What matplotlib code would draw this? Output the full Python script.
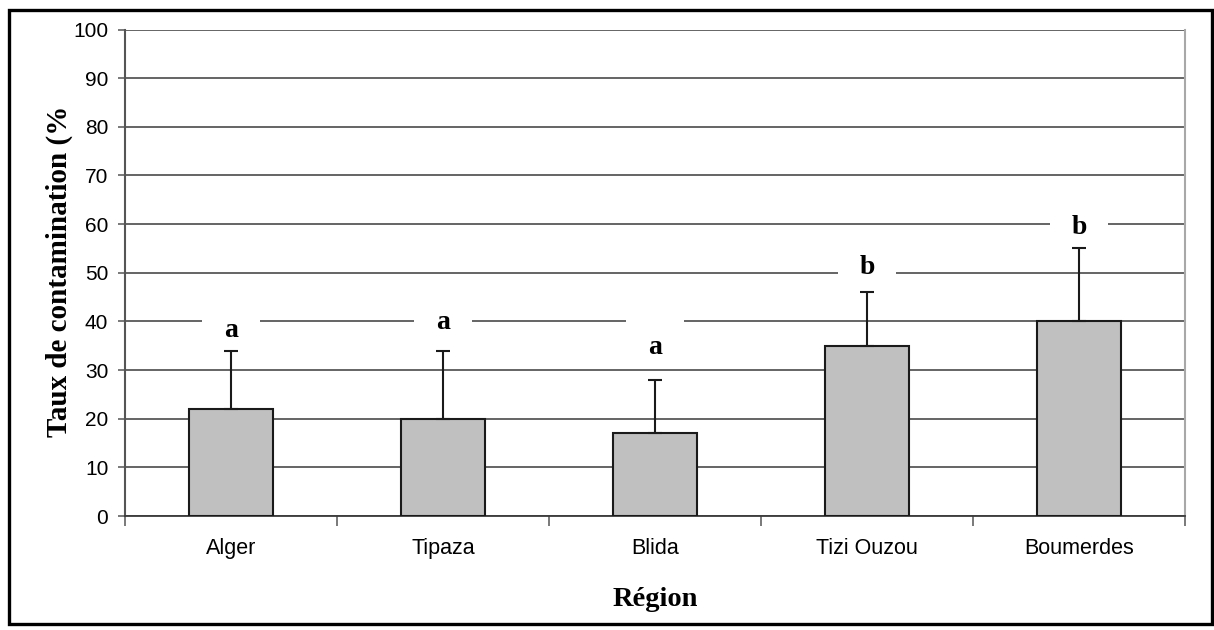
import numpy as np
import matplotlib.pyplot as plt
from matplotlib.patches import Rectangle

# contamination rate per region, mean and standard deviation (%)
regions = ['Alger', 'Tipaza', 'Blida', 'Tizi Ouzou', 'Boumerdes']
taux = [22, 20, 17, 35, 40]
ecart = [12, 14, 11, 11, 15]
groupes = ['a', 'a', 'a', 'b', 'b']

# gap between top of error bar and the group letter
letter_gap = [4.2, 5.8, 6.6, 5.0, 4.3]

W, H = 1214, 630
fig = plt.figure(figsize=(W / 100, H / 100), dpi=100)
ax = fig.add_axes([125 / W, (H - 516) / H, 1060 / W, 486.5 / H])

x = np.arange(len(regions))
yerr = [np.zeros(len(ecart)), ecart]
ax.bar(x, taux, width=0.4, color='#c0c0c0', edgecolor='#1a1a1a',
       linewidth=1.5, zorder=3)
ax.errorbar(x, taux, yerr=yerr, fmt='none', ecolor='#1a1a1a',
            elinewidth=1.5, capsize=4.7, capthick=1.5, zorder=4)

# letters for the significance groups, on a white patch hiding the grid
for i in range(len(regions)):
    ly = taux[i] + ecart[i] + letter_gap[i]
    ax.add_patch(Rectangle((x[i] - 0.135, ly - 3), 0.27, 9,
                           facecolor='white', edgecolor='none', zorder=2))
    ax.text(x[i], ly, groupes[i], ha='center', va='center',
            fontsize=20, fontweight='bold', family='Liberation Serif', zorder=5)

ax.set_xlim(-0.5, len(regions) - 0.5)
ax.set_ylim(0, 100)
ax.set_yticks(np.arange(0, 101, 10))
ax.yaxis.grid(True, color='#3a3a3a', linewidth=1.1, zorder=0)
ax.set_axisbelow(True)

ax.set_xticks(x)
ax.set_xticklabels(regions, family='Liberation Sans', fontsize=15.5)
ax.set_xticks(np.arange(-0.5, len(regions)), minor=True)
ax.tick_params(axis='x', which='major', length=0, pad=16)
ax.tick_params(axis='x', which='minor', length=7, width=1.1,
               color='#555555', direction='out')
ax.tick_params(axis='y', length=5, width=1.1, color='#555555', pad=7)
for lab in ax.get_yticklabels():
    lab.set_family('Liberation Sans')
    lab.set_fontsize(15)

ax.spines['top'].set_visible(False)
ax.spines['right'].set_color('#a8a8a8')
ax.spines['right'].set_linewidth(1.5)
ax.spines['left'].set_color('#555555')
ax.spines['left'].set_linewidth(1.5)
ax.spines['bottom'].set_color('#3a3a3a')
ax.spines['bottom'].set_linewidth(1.3)

ax.set_xlabel('Région', family='Liberation Serif', fontweight='bold',
              fontsize=20.5, labelpad=20)
fig.text(59 / W, 1 - 271 / H, 'Taux de contamination (%', rotation=90,
         ha='center', va='center', family='Liberation Serif',
         fontweight='bold', fontsize=21)

# black frame round the whole figure
fig.patches.append(Rectangle((8.5 / W, 6 / H), 1203 / W, 614.5 / H,
                             transform=fig.transFigure, fill=False,
                             edgecolor='black', linewidth=2.4))

fig.savefig('out.png', dpi=100)
